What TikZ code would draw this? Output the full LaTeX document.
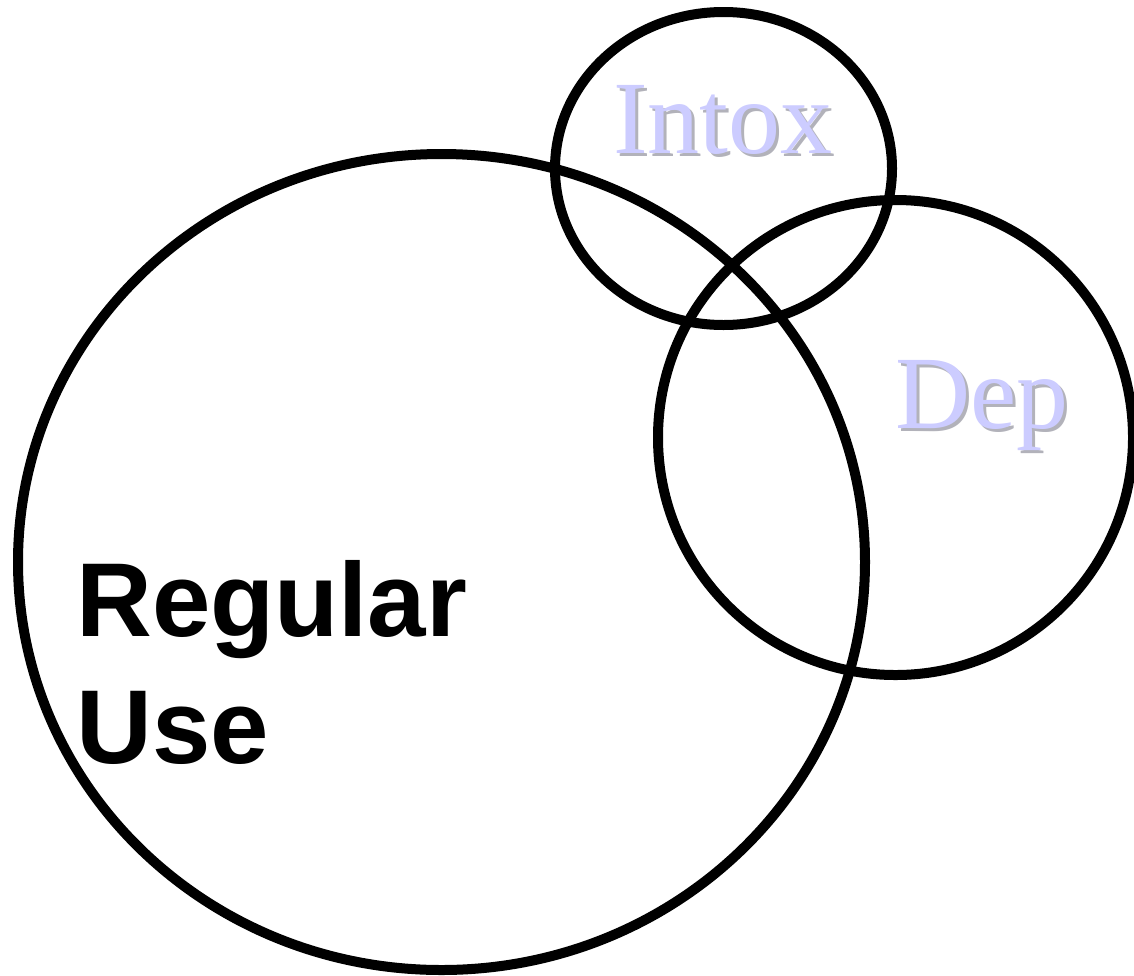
\documentclass[tikz,border=0pt]{standalone}
\usepackage{fontspec}
\setmainfont{Liberation Serif}
\newfontfamily\arialfont{Liberation Sans}
\definecolor{lav}{RGB}{204,204,255}
\definecolor{shade}{RGB}{178,178,186}
\newcommand{\shadowtext}[1]{\makebox[0pt][l]{\hspace{3pt}\raisebox{-3pt}{\textcolor{shade}{#1}}}\textcolor{lav}{#1}}
\tikzset{
  ring/.style={draw=black, line width=10pt},
  softlabel/.style={inner sep=0pt, anchor=base west, font=\fontsize{104}{120}\selectfont},
  boldlabel/.style={inner sep=0pt, anchor=base west, text=black, font=\arialfont\bfseries\fontsize{105}{127}\selectfont}
}
\begin{document}
\begin{tikzpicture}[x=1pt,y=-1pt]
\useasboundingbox (0,0) rectangle (1134,975);
\clip (0,0) rectangle (1134,975);
% circles
\draw[ring] (441.5,562) ellipse [x radius=423.5, y radius=408];
\draw[ring] (723.5,168.5) ellipse [x radius=168.5, y radius=156.5];
\draw[ring] (895.5,437.5) ellipse [x radius=237.5, y radius=237.5];
% labels
\node[softlabel] (intox) at (613,153) {\shadowtext{Intox}};
\node[softlabel] (dep) at (895,428) {\shadowtext{Dep}};
\node[boldlabel] (reg) at (76,636) {Regular};
\node[boldlabel] (use) at (76,763) {Use};
\end{tikzpicture}
\end{document}
